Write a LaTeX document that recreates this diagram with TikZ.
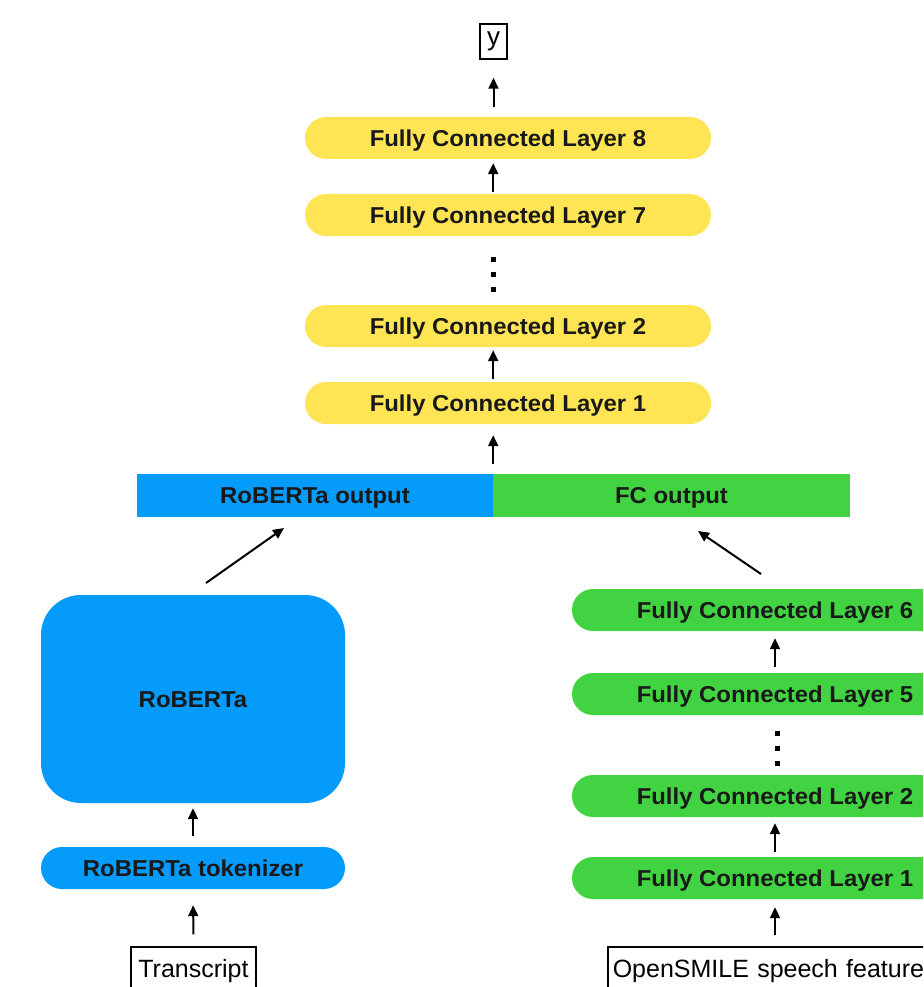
\documentclass[tikz,border=0pt]{standalone}
\usepackage{fontspec}
\setmainfont{Liberation Sans}
\newfontfamily\pillfont[FakeStretch=1.04]{Liberation Sans Bold}
\usetikzlibrary{arrows.meta,calc}
\definecolor{fcyellow}{RGB}{255,229,84}
\definecolor{fcgreen}{RGB}{65,211,65}
\definecolor{rbblue}{RGB}{5,155,250}
\begin{document}
\begin{tikzpicture}[x=1pt,y=-1pt,
  pilltext/.style={font={\pillfont\fontsize{23}{28}\selectfont}, text height=16.5pt, text depth=0pt, text=black!90},
  pill/.style={pilltext, rounded corners=21pt, minimum width=406pt, minimum height=42pt, inner sep=0pt},
  barbox/.style={pilltext, minimum height=43pt, inner sep=0pt},
  rbbox/.style={pilltext, rounded corners=40pt, minimum width=304pt, minimum height=208pt, inner sep=0pt, fill=rbblue},
  inbox/.style={draw=black, line width=1.5pt, font={\fontsize{25}{30}\selectfont}, text height=18pt, text depth=0pt, minimum height=42pt, inner sep=0pt},
  outbox/.style={draw=black, line width=1.5pt, font={\fontsize{26}{30}\selectfont}, text height=13pt, text depth=5pt, minimum width=27pt, minimum height=35pt, inner sep=0pt},
  arr/.style={-{Triangle[length=11pt,width=10pt]}, line width=2pt}
]
\useasboundingbox (0,0) rectangle (923,987);
\clip (0,0) rectangle (923,987);

% central stack
\node[outbox] (yout) at (493.5,41.5) {y};
\node[pill, fill=fcyellow] (y8) at (508,138) {Fully Connected Layer 8};
\node[pill, fill=fcyellow] (y7) at (508,215) {Fully Connected Layer 7};
\node[pill, fill=fcyellow] (y2) at (508,326) {Fully Connected Layer 2};
\node[pill, fill=fcyellow] (y1) at (508,403) {Fully Connected Layer 1};
\node[barbox, fill=rbblue, minimum width=356pt] (barL) at (315,495.5) {RoBERTa output};
\node[barbox, fill=fcgreen, minimum width=357pt] (barR) at (671.5,495.5) {FC output};

% left branch
\node[rbbox] (rob) at (193,699) {RoBERTa};
\node[pill, fill=rbblue, minimum width=304pt] (tok) at (193,868) {RoBERTa tokenizer};
\node[inbox, minimum width=125pt] (tr) at (193.5,968) {Transcript};

% right branch
\node[pill, fill=fcgreen] (g6) at (775,610) {Fully Connected Layer 6};
\node[pill, fill=fcgreen] (g5) at (775,694) {Fully Connected Layer 5};
\node[pill, fill=fcgreen] (g2) at (775,796) {Fully Connected Layer 2};
\node[pill, fill=fcgreen] (g1) at (775,878) {Fully Connected Layer 1};
\node[inbox, anchor=west, text width=330pt, align=left, inner xsep=5pt] (os) at (607,968) {OpenSMILE speech feature};

% dots
\foreach \yy in {259,274,289}{\fill (493-2.5,\yy-2.5) rectangle ++(5,5);}
\foreach \yy in {733,748,763}{\fill (777.5-2.5,\yy-2.5) rectangle ++(5,5);}

% arrows central
\draw[arr, shorten <=10pt, shorten >=18pt] (yout.south |- y8.north) -- (yout.south);
\draw[arr, shorten <=2pt, shorten >=4pt] (barL.north east |- y7.north) -- (barL.north east |- y8.south);
\draw[arr, shorten <=3pt, shorten >=3pt] (barL.north east |- y1.north) -- (barL.north east |- y2.south);
\draw[arr, shorten <=10pt, shorten >=11pt] (barL.north east) -- (barL.north east |- y1.south);

% left arrows
\draw[arr, shorten <=11pt, shorten >=5pt] (tok.north) -- (rob.south);
\draw[arr, shorten <=12pt, shorten >=16pt] (tr.north) -- (tok.south);
\coordinate (la) at (206,583);
\coordinate (lb) at (284,528);
\draw[arr] (la) -- (lb);

% right arrows
\draw[arr, shorten <=6pt, shorten >=7pt] (g5.north) -- (g6.south);
\draw[arr, shorten <=5pt, shorten >=6pt] (g1.north) -- (g2.south);
\draw[arr, shorten <=11pt, shorten >=8pt] (os.north -| g1.south) -- (g1.south);
\coordinate (ra) at (761,574);
\coordinate (rb) at (698,531);
\draw[arr] (ra) -- (rb);
\end{tikzpicture}
\end{document}
